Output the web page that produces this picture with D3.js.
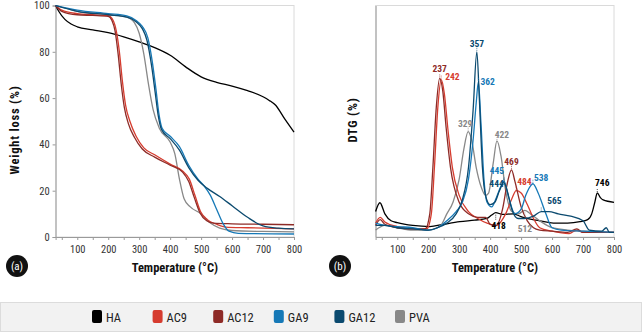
<!DOCTYPE html>
<html>
<head>
<meta charset="utf-8">
<script src="https://cdn.jsdelivr.net/npm/d3@7"></script>
<style>
  body { margin: 0; background: #fff; }
  text { font-family: "Roboto Condensed", "Liberation Sans Narrow", "DejaVu Sans Condensed", Roboto, sans-serif; font-stretch: condensed; }
</style>
</head>
<body>
<div id="container"></div>
<script>
let w = 642;
let h = 333;

// series names and colours
let seriesNames = ['HA', 'AC9', 'AC12', 'GA9', 'GA12', 'PVA'];
let colors = { HA: '#000000', AC9: '#d63c2f', AC12: '#8e2b27', GA9: '#1679b7', GA12: '#0b4a6f', PVA: '#888888' };

// TGA weight loss (%), [temperature, value]
let tgaHA = [[30,100],[40,97.5],[60,94],[80,92],[100,90.8],[150,89.5],[200,88.3],[250,86.5],[300,84.3],[350,81.8],[400,78.5],[450,73.5],[500,69.2],[550,66.8],[600,65.2],[650,63.2],[700,60.6],[720,59],[740,57],[770,51],[800,45.3]];
let tgaAC12 = [[30,100],[50,97.5],[100,96],[150,95.7],[200,95.3],[212,93.5],[222,89],[232,79],[242,66],[252,56],[265,49],[285,43],[310,38],[350,34.5],[400,31],[440,28],[460,24],[478,17],[496,10.5],[518,7],[540,6],[600,5.7],[700,5.5],[800,5.3]];
let tgaAC9 = [[30,100],[50,98],[100,96.5],[150,96],[200,95.6],[216,93.5],[226,89],[236,80],[246,67],[256,57],[270,50],[290,43.5],[315,38.5],[350,35.5],[400,31.5],[440,28.5],[462,25],[480,18],[498,11],[520,7.5],[550,5.5],[580,4.3],[650,4],[800,3.5]];
let tgaGA12 = [[30,100],[100,97.5],[200,96],[260,95],[290,93],[310,90],[325,85],[340,74],[352,62],[362,52],[372,46.5],[400,42.5],[430,37.5],[460,30],[490,24.5],[520,21],[560,17.5],[600,13.5],[650,8.5],[700,4.8],[750,3.8],[800,3.5]];
let tgaGA9 = [[30,100],[100,98],[200,96.5],[260,95.5],[290,93.5],[310,91],[328,86],[342,76],[354,64],[364,53],[374,47],[400,43.5],[430,39],[460,31],[490,25],[510,22],[530,18],[550,12],[570,6],[590,2.5],[620,1.6],[800,1.3]];
let tgaPVA = [[30,100],[100,97.5],[200,96],[260,95],[285,92.5],[300,88],[315,79],[330,66],[345,55],[365,47],[400,41],[415,36],[430,25],[445,16.5],[465,13],[500,10],[530,6],[560,3.8],[600,2.8],[700,2.4],[800,2.2]];

// DTG (%), arbitrary scale, [temperature, value]
let dtgHA = [[30,11],[44,14.8],[60,10],[80,7],[100,6.2],[150,5],[205,4.5],[250,5.5],[302,6.6],[350,7.3],[389,8],[405,9.5],[418,10.5],[440,9.8],[475,10],[500,8.8],[518,8],[560,7],[604,6],[650,6],[690,6.6],[715,7.5],[728,10],[738,15],[746,19],[756,17],[765,16],[800,15]];
let dtgAC12 = [[30,5],[45,7.5],[60,5.5],[100,4],[150,3.5],[190,3.5],[205,10],[215,30],[226,56],[237,68.5],[247,63],[258,47],[272,30],[300,15],[330,10],[360,8.5],[385,8.5],[400,5.5],[420,5],[440,12],[455,23],[469,29],[480,24],[500,13],[520,7],[540,4],[560,3],[600,2.5],[650,2],[680,3.5],[700,2],[800,2]];
let dtgAC9 = [[30,6],[45,8.5],[60,6.5],[100,4.5],[150,3.5],[195,3.5],[210,10],[220,30],[231,56],[242,68],[252,62],[264,46],[278,30],[300,18],[330,11],[360,8],[390,6],[420,5],[450,10],[470,16.5],[484,20],[500,19],[520,14],[540,8],[560,4],[600,2.5],[655,1.5],[680,3],[700,2],[800,2]];
let dtgGA9 = [[30,6],[60,5],[100,4.5],[150,4],[200,3],[230,4],[260,7],[290,11],[310,15],[330,25],[345,42],[355,58],[362,67],[370,50],[380,25],[390,15],[405,13],[420,17],[435,22],[445,24],[460,17],[480,10],[500,12],[515,18],[530,22],[538,23],[555,19],[580,10],[600,4],[630,3],[700,2.5],[800,2]];
let dtgGA12 = [[30,5],[60,5],[100,4],[150,3.5],[200,3],[230,4],[260,6],[290,10],[310,16],[330,30],[345,55],[357,80],[365,60],[375,30],[385,18],[400,14],[415,15],[430,20],[444,23.5],[455,20],[470,12],[490,8],[510,8],[540,9],[565,11],[590,11],[620,10],[660,9],[700,7],[720,3],[760,2.5],[775,4],[785,2],[800,2]];
let dtgPVA = [[30,3],[60,5],[100,4],[150,3],[200,3],[240,5],[260,10],[280,15],[300,25],[315,38],[329,45.5],[340,42],[355,30],[370,22],[385,18],[395,19],[410,32],[422,41.5],[435,35],[450,20],[470,11],[490,10],[512,11.5],[530,10],[560,7],[600,4],[650,3],[700,2.5],[800,2]];

// labelled DTG peaks: [series, temperature]
let peaks = [['AC12',237],['AC9',242],['GA12',357],['GA9',362],['PVA',329],['PVA',422],['AC12',469],['GA9',445],['GA12',444],['AC9',484],['GA9',538],['GA12',565],['HA',746],['HA',418],['PVA',512]];

let tgaData = { HA: tgaHA, AC9: tgaAC9, AC12: tgaAC12, GA9: tgaGA9, GA12: tgaGA12, PVA: tgaPVA };
let dtgData = { HA: dtgHA, AC9: dtgAC9, AC12: dtgAC12, GA9: dtgGA9, GA12: dtgGA12, PVA: dtgPVA };
let drawOrder = ['HA', 'PVA', 'AC9', 'AC12', 'GA9', 'GA12'];

// label placement relative to the peak (styling only)
let labelPlace = {
  237: ['middle', 0, -6], 242: ['start', 4, 0], 357: ['middle', 0, -5], 362: ['start', 2, 3],
  329: ['middle', -3, -5], 422: ['middle', 5, -3], 469: ['middle', 0, -5], 445: ['end', 0, -7],
  444: ['end', 0, 4], 484: ['start', 1, -6], 538: ['start', 1, -3], 565: ['start', 6, -8],
  746: ['middle', 5, -7], 418: ['middle', 3, 16], 512: ['middle', 0, 22]
};

let viz = d3.select('#container').append('svg').attr('width', w).attr('height', h);

let yTop = 5.5, yBottom = 237;

function drawPanel(x0, x1, dataSet, showY) {
  let xScale = d3.scaleLinear().domain([30, 800]).range([x0, x1]);
  let yScale = d3.scaleLinear().domain([0, 100]).range([yBottom, yTop]);
  let g = viz.append('g');

  g.append('rect').attr('x', x0).attr('y', yTop).attr('width', x1 - x0).attr('height', yBottom - yTop)
    .attr('fill', 'none').attr('stroke', '#dadada');

  let xAxis = d3.axisBottom(xScale).tickValues(d3.range(50, 801, 50)).tickSize(3)
    .tickFormat(d => d % 100 === 0 ? d : '');
  let xAxisGroup = g.append('g').attr('transform', 'translate(0,' + yBottom + ')').call(xAxis);

  let yAxisGroup = g.append('g').attr('transform', 'translate(' + x0 + ',0)');
  if (showY) {
    yAxisGroup.call(d3.axisLeft(yScale).tickValues(d3.range(0, 101, 20)).tickSize(3));
  } else {
    yAxisGroup.call(d3.axisLeft(yScale).tickValues([]).tickSize(0));
  }
  [xAxisGroup, yAxisGroup].forEach(a => {
    a.select('.domain').attr('stroke', '#9a9a9a');
    a.selectAll('.tick line').attr('stroke', '#9a9a9a');
    a.selectAll('.tick text').attr('fill', '#333').attr('font-size', 10.5);
  });
  xAxisGroup.selectAll('.tick text').attr('dy', '0.95em');

  let line = d3.line().x(d => xScale(d[0])).y(d => yScale(d[1])).curve(d3.curveMonotoneX);
  drawOrder.forEach(name => {
    g.append('path').datum(dataSet[name]).attr('d', line)
      .attr('fill', 'none').attr('stroke', colors[name]).attr('stroke-width', 1.3);
  });

  g.append('text').attr('x', (x0 + x1) / 2).attr('y', 272).attr('text-anchor', 'middle')
    .attr('font-weight', 'bold').attr('font-size', 12.5).attr('fill', '#111').text('Temperature (°C)');

  return { xScale, yScale, g };
}

let left = drawPanel(55.6, 294, tgaData, true);
let right = drawPanel(375.6, 614, dtgData, false);

// y titles
viz.append('text').attr('transform', 'translate(19,130) rotate(-90)').attr('text-anchor', 'middle')
  .attr('font-weight', 'bold').attr('font-size', 12.5).attr('letter-spacing', 0.8).attr('fill', '#111')
  .text('Weight loss (%)');
viz.append('text').attr('transform', 'translate(357,120) rotate(-90)').attr('text-anchor', 'middle')
  .attr('font-weight', 'bold').attr('font-size', 12.5).attr('letter-spacing', 0.8).attr('fill', '#111')
  .text('DTG (%)');

// peak labels
peaks.forEach(p => {
  let name = p[0], t = p[1];
  let pt = dtgData[name].find(d => d[0] === t);
  let px = right.xScale(t), py = right.yScale(pt[1]);
  let place = labelPlace[t];
  let below = t === 418 || t === 512;
  if (below) {
    right.g.append('line').attr('x1', px).attr('x2', px).attr('y1', py + 2).attr('y2', py + 7)
      .attr('stroke', colors[name]).attr('stroke-width', 0.7).attr('stroke-dasharray', '1,1');
  } else {
    right.g.append('line').attr('x1', px).attr('x2', px).attr('y1', py - 1).attr('y2', py - 5)
      .attr('stroke', colors[name]).attr('stroke-width', 0.7).attr('stroke-dasharray', '1,1');
  }
  right.g.append('text').attr('x', px + place[1]).attr('y', py + place[2])
    .attr('text-anchor', place[0]).attr('font-size', 9.5).attr('font-weight', 'bold')
    .attr('fill', colors[name]).text(t);
});

// panel badges
[['(a)', 17], ['(b)', 340]].forEach(b => {
  viz.append('circle').attr('cx', b[1]).attr('cy', 266).attr('r', 11).attr('fill', '#111');
  viz.append('text').attr('x', b[1]).attr('y', 270).attr('text-anchor', 'middle')
    .attr('font-size', 11).attr('fill', '#fff').text(b[0]);
});

// legend
viz.append('rect').attr('x', 0.5).attr('y', 302.5).attr('width', w - 1).attr('height', 29)
  .attr('fill', '#f2f2f2').attr('stroke', '#dcdcdc');
let legendX = d3.scalePoint().domain(seriesNames).range([92, 395]);
seriesNames.forEach(name => {
  let item = viz.append('g').attr('transform', 'translate(' + legendX(name) + ',0)');
  item.append('rect').attr('x', 0).attr('y', 310).attr('width', 10).attr('height', 13).attr('rx', 2)
    .attr('fill', colors[name]);
  item.append('text').attr('x', 14).attr('y', 321.5).attr('font-size', 12.5).attr('fill', '#222').text(name);
});
</script>
</body>
</html>
